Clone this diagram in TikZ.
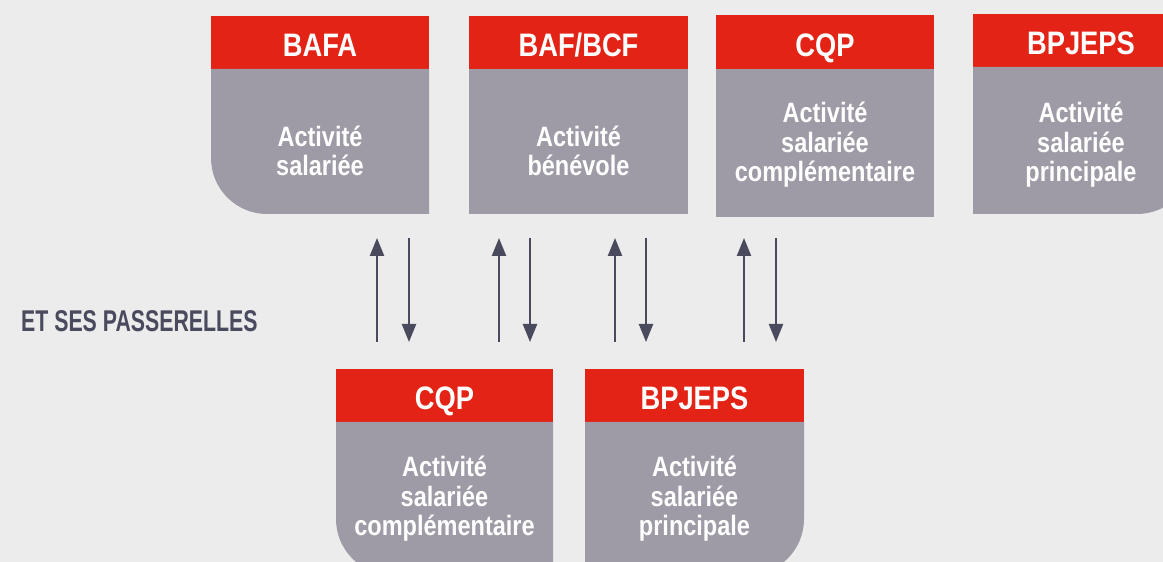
\documentclass[tikz,border=0pt]{standalone}
\usepackage{fontspec}
\setmainfont{Liberation Sans}
\newfontfamily\boxfont{Liberation Sans}[FakeStretch=0.84]
\newfontfamily\labfont{Liberation Sans}[FakeStretch=0.71]
\usetikzlibrary{arrows.meta}
\definecolor{bg}{RGB}{236,236,236}
\definecolor{hdr}{RGB}{227,35,21}
\definecolor{bdy}{RGB}{158,154,166}
\definecolor{ink}{RGB}{74,74,94}
\tikzset{
  head/.style={fill=hdr},
  body/.style={fill=bdy},
  htext/.style={anchor=base,inner sep=0pt,text=white,font=\boxfont\bfseries\fontsize{32.5}{34}\selectfont},
  btext/.style={anchor=base,inner sep=0pt,text=white,align=center,font=\boxfont\bfseries\fontsize{28}{29.8}\selectfont},
  arr/.style={draw=ink,line width=2.3pt,-{Triangle[length=18pt,width=14pt]}},
}
\begin{document}
\begin{tikzpicture}[x=1pt,y=1pt]
\fill[bg] (0,0) rectangle (1163,562);
\useasboundingbox (0,0) rectangle (1163,562);
\clip (0,0) rectangle (1163,562);
% BAFA
\fill[head] (211,493) rectangle (429,546);
\fill[body] (211,493) -- (429,493) -- (429,348) -- (267,348) arc[start angle=270,end angle=180,radius=56] -- cycle;
\node[htext] (bafa) at (320,505) {BAFA};
\node[btext] (bafat) at (320,386) {Activité\\salariée};
% BAF/BCF
\fill[head] (469,493) rectangle (688,546);
\fill[body] (469,348) rectangle (688,493);
\node[htext] (baf) at (578.5,505) {BAF/BCF};
\node[btext] (baft) at (578.5,386) {Activité\\bénévole};
% CQP top
\fill[head] (716,493) rectangle (934,547);
\fill[body] (716,345) rectangle (934,493);
\node[htext] (cqp) at (825,505) {CQP};
\node[btext] (cqpt) at (825,380) {Activité\\salariée\\complémentaire};
% BPJEPS top
\fill[head] (973,495) rectangle (1193,548);
\fill[body] (973,495) -- (1193,495) -- (1193,404) arc[start angle=0,end angle=-90,radius=56] -- (973,348) -- cycle;
\node[htext] (bp) at (1081,507) {BPJEPS};
\node[btext] (bpt) at (1081,380) {Activité\\salariée\\principale};
% CQP bottom
\fill[head] (336,140) rectangle (553,193);
\fill[body] (336,140) -- (553,140) -- (553,-13) -- (392,-13) arc[start angle=270,end angle=180,radius=56] -- cycle;
\node[htext] (cqp2) at (444.5,152) {CQP};
\node[btext] (cqp2t) at (444.5,26) {Activité\\salariée\\complémentaire};
% BPJEPS bottom
\fill[head] (585,140) rectangle (804,193);
\fill[body] (585,140) -- (804,140) -- (804,43) arc[start angle=0,end angle=-90,radius=56] -- (585,-13) -- cycle;
\node[htext] (bp2) at (694.5,152) {BPJEPS};
\node[btext] (bp2t) at (694.5,26) {Activité\\salariée\\principale};
% label
\node[anchor=base west,inner sep=0pt,text=ink,font=\labfont\bfseries\fontsize{30}{32}\selectfont] (lab) at (21,230) {ET SES PASSERELLES};
% arrows
\foreach \u/\d [count=\i] in {377/409,499/530,615/646,744/776}{
  \coordinate (u\i b) at (\u,220);
  \coordinate (u\i t) at (\u,324);
  \coordinate (d\i t) at (\d,324);
  \coordinate (d\i b) at (\d,220);
  \draw[arr] (u\i b) -- (u\i t);
  \draw[arr] (d\i t) -- (d\i b);
}
\end{tikzpicture}
\end{document}
